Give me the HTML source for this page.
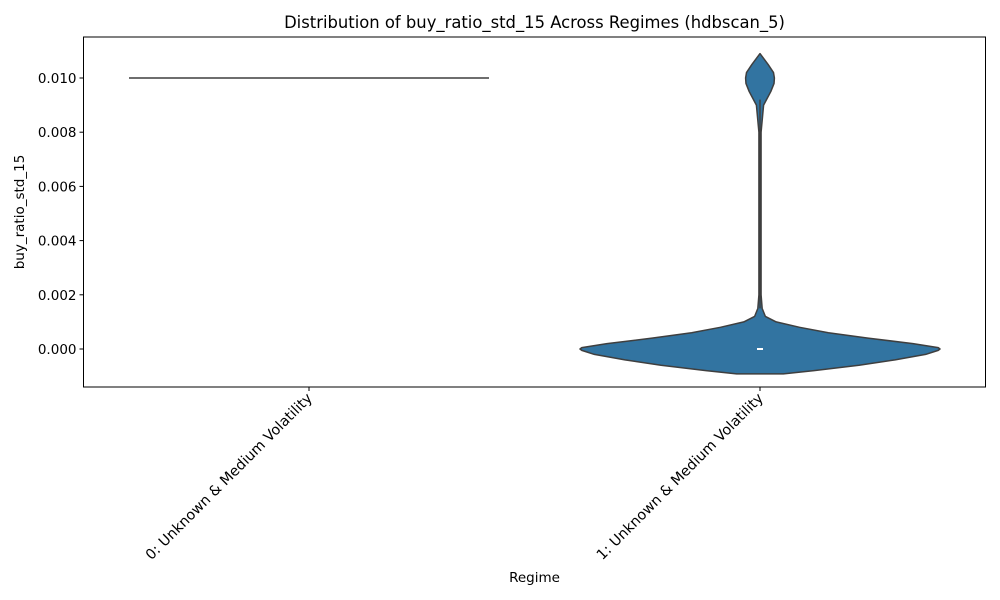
<!DOCTYPE html>
<html><head><meta charset="utf-8"><style>body{margin:0;background:#fff}svg{display:block;font-family:"DejaVu Sans","Liberation Sans",sans-serif}</style></head>
<body>
<svg id="c" width="1000" height="600"></svg>
<script>
const categories=["0: Unknown & Medium Volatility","1: Unknown & Medium Volatility"];
const yTicks=[0.000,0.002,0.004,0.006,0.008,0.010];
const cat0Value=0.010;
const profileValues=[-0.00092,-0.0008,-0.0006,-0.0004,-0.0002,-0.00005,0,0.00005,0.0002,0.0004,0.0006,0.0008,0.001,0.0012,0.0015,0.002,0.008,0.009,0.0095,0.0098,0.010,0.0102,0.0105,0.0109];
const profileDensity=[0.13,0.3,0.55,0.75,0.92,0.99,1.0,0.99,0.85,0.6,0.38,0.22,0.09,0.03,0.012,0.006,0.006,0.02,0.06,0.078,0.08,0.075,0.045,0];
const cat1Median=0.0;
const NS="http://www.w3.org/2000/svg";
const svg=document.getElementById('c');
const L=83.5,R=985.5,T=37,B=387;
const y=v=>349-(v)*27100;
const x=i=>L+(i+0.5)*(R-L)/2;
const maxHalf=180;
function mk(t,a,txt){const e=document.createElementNS(NS,t);for(const k in a)e.setAttribute(k,a[k]);if(txt!==undefined)e.textContent=txt;svg.appendChild(e);return e;}
let e;
e=mk('text',{x:(L+R)/2,y:28,'text-anchor':'middle','font-size':16.4},'Distribution of buy_ratio_std_15 Across Regimes (hdbscan_5)');


e=mk('line',{x1:x(0)-maxHalf,x2:x(0)+maxHalf,y1:y(cat0Value),y2:y(cat0Value),stroke:'#3f3f3f','stroke-width':1.5});


let pts=[];
for(let i=0;i<profileValues.length;i++)pts.push([x(1)+profileDensity[i]*maxHalf,y(profileValues[i])]);
for(let i=profileValues.length-1;i>=0;i--)pts.push([x(1)-profileDensity[i]*maxHalf,y(profileValues[i])]);
e=mk('polygon',{points:pts.map(p=>p.join(',')).join(' '),fill:'#3274a1',stroke:'#3f3f3f','stroke-width':1.5,'stroke-linejoin':'round'});


e=mk('line',{x1:x(1),x2:x(1),y1:y(0.0015),y2:y(0.0092),stroke:'#3f3f3f','stroke-width':1.5});


e=mk('line',{x1:x(1)-3,x2:x(1)+3,y1:y(cat1Median),y2:y(cat1Median),stroke:'#fff','stroke-width':2});


e=mk('rect',{x:L,y:T,width:R-L,height:B-T,fill:'none',stroke:'#000','stroke-width':1});


yTicks.forEach(v=>{
 e=mk('line',{x1:L-4,x2:L,y1:y(v),y2:y(v),stroke:'#000'});
 
 
 e=mk('text',{x:L-7,y:y(v)+5,'text-anchor':'end','font-size':13.5},v.toFixed(3));
 
 
});
categories.forEach((c,i)=>{
 e=mk('line',{x1:x(i),x2:x(i),y1:B,y2:B+4,stroke:'#000'});
 
 
 const ax=x(i)+4,ay=B+12;
 e=mk('text',{x:ax,y:ay,'text-anchor':'end','font-size':14.3,transform:`rotate(-45 ${ax} ${ay})`},c);
 
 
});
e=mk('text',{x:(L+R)/2,y:582,'text-anchor':'middle','font-size':13.5},'Regime');


e=mk('text',{x:24,y:(T+B)/2,'text-anchor':'middle','font-size':13.5,transform:`rotate(-90 24 ${(T+B)/2})`},'buy_ratio_std_15');


</script>
</body></html>
